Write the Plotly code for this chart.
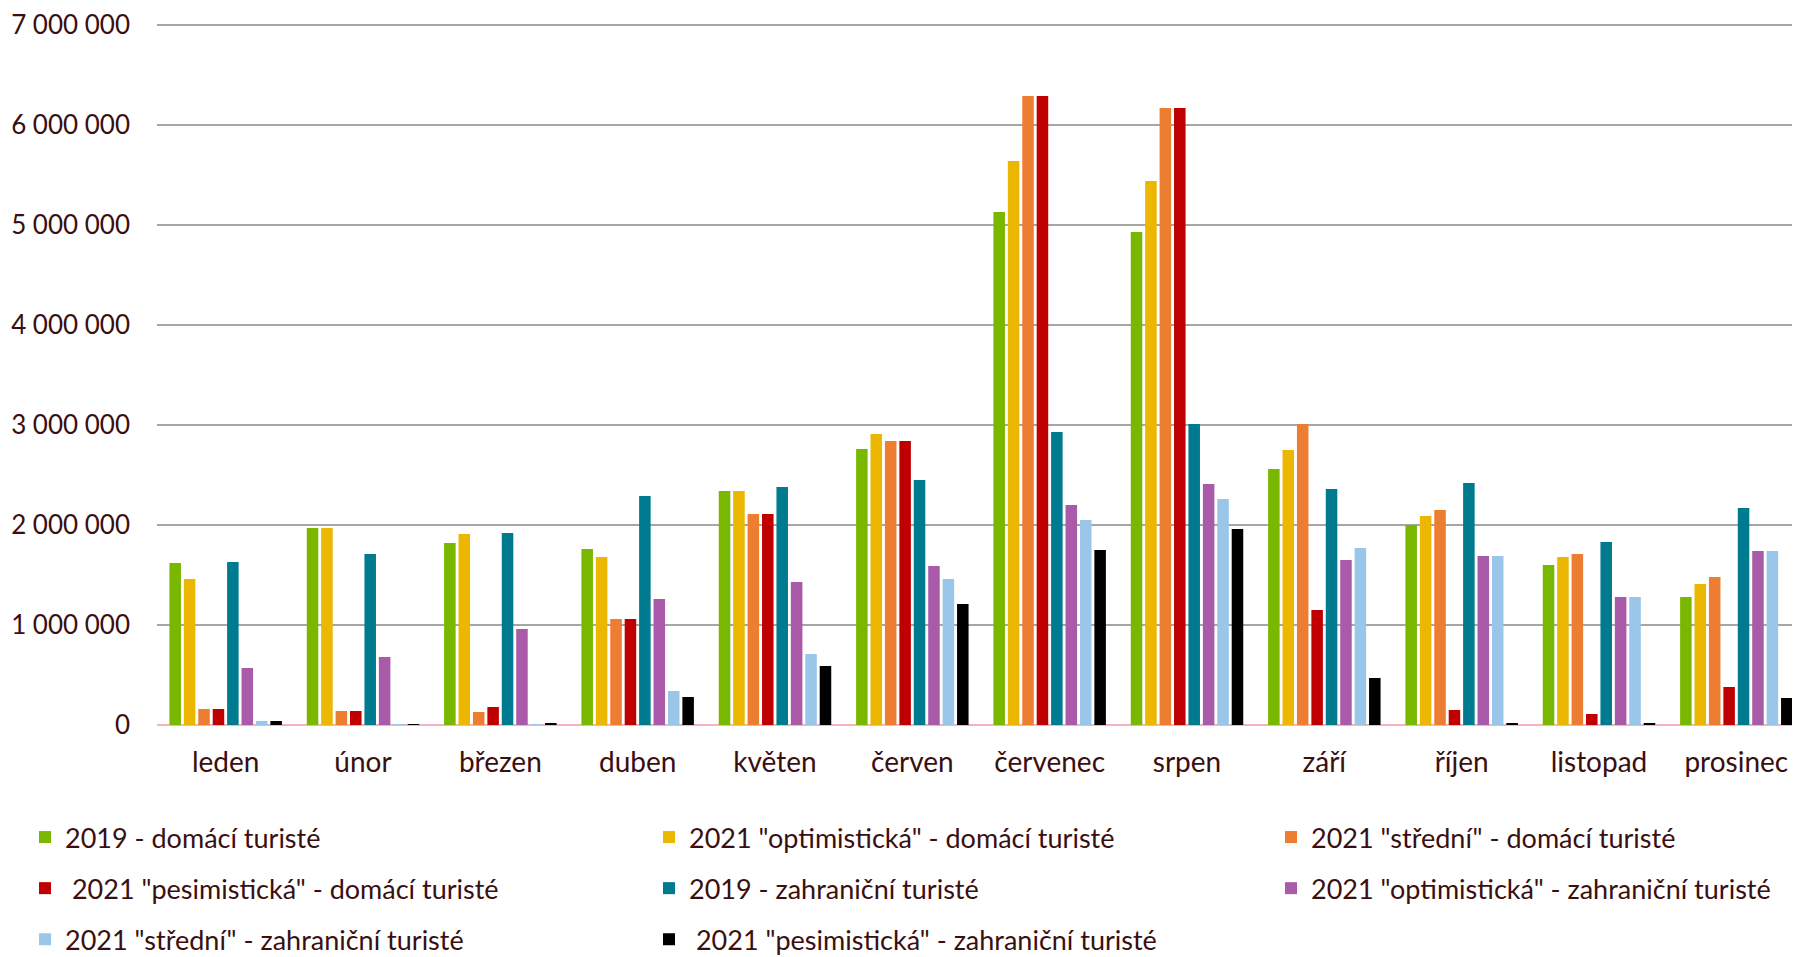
import plotly.graph_objects as go

months = ["leden", "únor", "březen", "duben", "květen", "červen", "červenec",
          "srpen", "září", "říjen", "listopad", "prosinec"]

series_names = [
    "2019 - domácí turisté",
    "2021 \"optimistická\" - domácí turisté",
    "2021 \"střední\" - domácí turisté",
    " 2021 \"pesimistická\" - domácí turisté",
    "2019 - zahraniční turisté",
    "2021 \"optimistická\" - zahraniční turisté",
    "2021 \"střední\" - zahraniční turisté",
    " 2021 \"pesimistická\" - zahraniční turisté",
]

dom_2019 = [1620000, 1970000, 1820000, 1760000, 2340000, 2760000, 5130000, 4930000, 2560000, 2000000, 1600000, 1280000]
dom_opt = [1460000, 1970000, 1910000, 1680000, 2340000, 2910000, 5640000, 5440000, 2750000, 2090000, 1680000, 1410000]
dom_str = [160000, 140000, 130000, 1060000, 2110000, 2840000, 6290000, 6170000, 3010000, 2150000, 1710000, 1480000]
dom_pes = [160000, 140000, 180000, 1060000, 2110000, 2840000, 6290000, 6170000, 1150000, 150000, 110000, 380000]
zah_2019 = [1630000, 1710000, 1920000, 2290000, 2380000, 2450000, 2930000, 3010000, 2360000, 2420000, 1830000, 2170000]
zah_opt = [570000, 680000, 960000, 1260000, 1430000, 1590000, 2200000, 2410000, 1650000, 1690000, 1280000, 1740000]
zah_str = [40000, 6000, 10000, 340000, 710000, 1460000, 2050000, 2260000, 1770000, 1690000, 1280000, 1740000]
zah_pes = [40000, 6000, 15000, 280000, 590000, 1210000, 1750000, 1960000, 470000, 20000, 20000, 270000]

series_values = [dom_2019, dom_opt, dom_str, dom_pes, zah_2019, zah_opt, zah_str, zah_pes]
colors = ["#7ab800", "#ebb700", "#ed7d31", "#c00000", "#007a8f", "#a95ba9", "#9ac6ea", "#000000"]

tick_vals = [0, 1000000, 2000000, 3000000, 4000000, 5000000, 6000000, 7000000]
tick_text = ["0", "1 000 000", "2 000 000", "3 000 000", "4 000 000", "5 000 000", "6 000 000", "7 000 000"]

# legend columns (3 columns, filled row by row)
legend_ids = ["legend", "legend2", "legend3", "legend", "legend2", "legend3", "legend", "legend2"]

txt = "#3a0f0f"
font_family = "Lato, 'Open Sans', sans-serif"

fig = go.Figure()
for i, (name, vals, col, lg) in enumerate(zip(series_names, series_values, colors, legend_ids)):
    fig.add_trace(go.Bar(x=months, y=vals, name=name, marker_color=col,
                         marker_line_width=0, legend=lg, legendgroup="g%d" % i))

W, H = 1800, 957
ml, mr, mt, mb = 149, 3, 14, 240

def cy(ypix):
    return 1 - ypix / H

def cx(xpix):
    return xpix / W

leg_common = dict(orientation="v", xanchor="left", yanchor="top",
                  xref="container", yref="container",
                  tracegroupgap=13,
                  font=dict(family=font_family, size=27, color=txt),
                  bgcolor="rgba(0,0,0,0)", traceorder="grouped")

leg_top = 805
fig.update_layout(
    width=W, height=H,
    margin=dict(l=ml, r=mr, t=mt, b=mb, autoexpand=False),
    paper_bgcolor="white", plot_bgcolor="white",
    barmode="group", bargap=0.16, bargroupgap=0.2,
    font=dict(family=font_family, size=27, color=txt),
    legend=dict(x=cx(17), y=cy(leg_top), **leg_common),
    legend2=dict(x=cx(641), y=cy(leg_top), **leg_common),
    legend3=dict(x=cx(1263), y=cy(leg_top), **leg_common),
    showlegend=True,
)

fig.update_yaxes(range=[0, 7030000], tickvals=tick_vals, ticktext=tick_text,
                 showgrid=True, gridcolor="#a6a6a6", gridwidth=2,
                 zeroline=True, zerolinecolor="#f5b3c0", zerolinewidth=2,
                 showline=False, ticks="", ticklabelstandoff=26,
                 tickfont=dict(family=font_family, size=26, color=txt))
fig.update_xaxes(showgrid=False, showline=False, ticks="",
                 ticklabelstandoff=18,
                 tickfont=dict(family=font_family, size=28, color=txt))

fig.write_html("out.html")
